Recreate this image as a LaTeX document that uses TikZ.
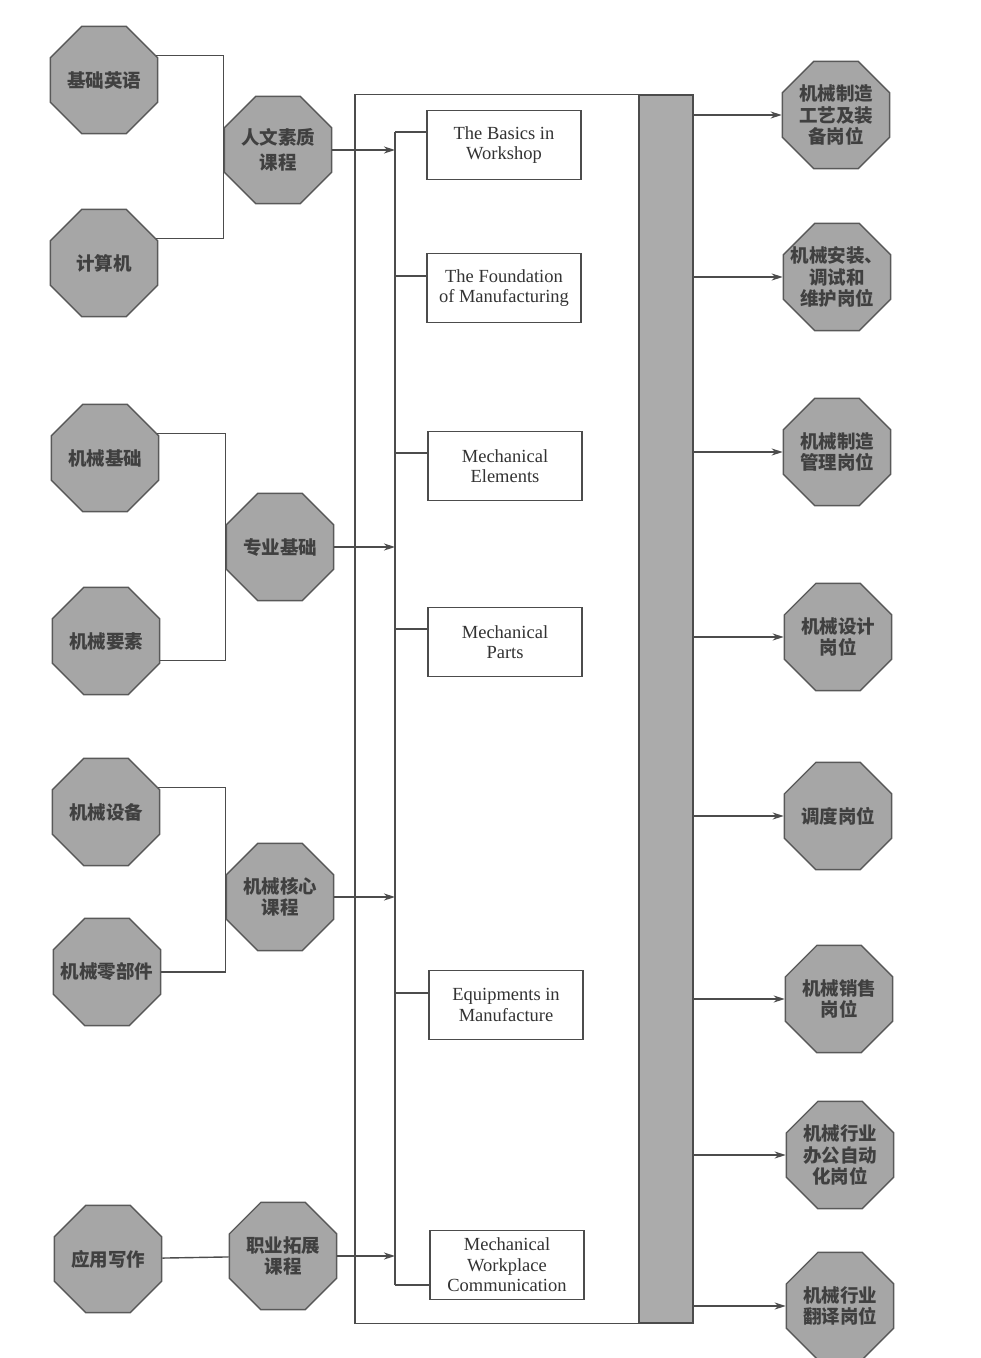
\documentclass[tikz,border=0pt]{standalone}
\usepackage{fontspec}
\setmainfont{Liberation Serif}
\newfontfamily\cjk{Noto Sans CJK SC}
\usepackage{tikz}
\usetikzlibrary{arrows.meta}
\usetikzlibrary{shapes.geometric}
\usetikzlibrary{calc}

\begin{document}
\begin{tikzpicture}
  [
    x=1pt, y=-1pt,
    oct/.style={
      regular polygon,
      regular polygon sides=8,
      minimum size=116pt,
      inner sep=-12pt,
      draw=black!65,
      line width=1.4pt,
      fill=black!35,
      text=black!75,
      align=center,
      font=\cjk\bfseries\fontsize{18.5}{21.5}\selectfont
    },
    course/.style={
      draw=black!70,
      line width=1.4pt,
      minimum width=154pt,
      minimum height=69pt,
      inner sep=0pt,
      align=center,
      text=black!80,
      font=\fontsize{18.5}{20.5}\selectfont
    },
    bar/.style={
      draw=black!70,
      line width=1.4pt,
      fill=black!33,
      minimum width=54pt,
      minimum height=1228pt,
      inner sep=0pt
    },
    link/.style={
      draw=black!70,
      line width=1.4pt
    },
    feed/.style={
      link,
      -{Stealth[length=11pt,width=7pt,inset=3.5pt]}
    }
  ]
    \fill [white] (0,0) rectangle (981,1358);
    \useasboundingbox (0,0) rectangle (981,1358);
    % basic courses
    \node [oct] (jcyy) at (104,80) {基础英语};
    \node [oct] (jsj) at (104,263) {计算机};
    \node [oct] (jxjc) at (105,458) {机械基础};
    \node [oct] (jxys) at (106,641) {机械要素};
    \node [oct] (jxsb) at (106,812) {机械设备};
    \node [oct] (jxlbj) at (107,972) {机械零部件};
    \node [oct] (yyxz) at (108,1259) {应用写作};
    % course groups
    \node [oct] (rwsz) at (278,150) {人文素质\\[3pt]课程};
    \node [oct] (zyjc) at (280,547) {专业基础};
    \node [oct] (jxhx) at (280,897) {机械核心\\课程};
    \node [oct] (zytz) at (283,1256) {职业拓展\\课程};
    % english courses
    \node [course] (wkshp) at (504,145) {The Basics in\\Workshop};
    \node [course] (mfg) at (504,288) {The Foundation\\of Manufacturing};
    \node [course] (elem) at (505,466) {Mechanical\\Elements};
    \node [course] (parts) at (505,642) {Mechanical\\Parts};
    \node [course] (equip) at (506,1005) {Equipments in\\Manufacture};
    \node [course] (comm) at (507,1265) {Mechanical\\Workplace\\Communication};
    \node [bar] (bar) at (666,709) {};
    % jobs
    \node [oct] (job1) at (836,115) {机械制造\\工艺及装\\备岗位};
    \node [oct] (job2) at (837,277) {机械安装、\\调试和\\维护岗位};
    \node [oct] (job3) at (837,452) {机械制造\\管理岗位};
    \node [oct] (job4) at (838,637) {机械设计\\岗位};
    \node [oct] (job5) at (838,816) {调度岗位};
    \node [oct] (job6) at (839,999) {机械销售\\岗位};
    \node [oct] (job7) at (840,1155) {机械行业\\办公自动\\化岗位};
    \node [oct] (job8) at (840,1306) {机械行业\\翻译岗位};
    % connectors
    \draw [link] (jcyy.25) -| (rwsz.west) |- (jsj.25);
    \draw [link] (jxjc.25) -| (zyjc.west) |- (jxys.-20);
    \draw [link] (jxsb.25) -| (jxhx.west) |- (jxlbj.east);
    \draw [link] (yyxz) -- (zytz);
    \coordinate (frame) at (355,0);
    \coordinate (bus) at (395,0);
    \draw [link] (bar.north west) -| (frame |- bar.south west) -- (bar.south west);
    \foreach \g in {rwsz,zyjc,jxhx,zytz}
      \draw [feed] (\g.east) -- (\g.east -| bus);
    \foreach \b/\s in {wkshp/13,mfg/12,elem/13,parts/13,equip/12,comm/-20}
      \coordinate (br-\b) at ([yshift=\s pt]\b.west);
    \draw [link] (br-wkshp -| bus) -- (br-comm -| bus);
    \foreach \b in {wkshp,mfg,elem,parts,equip,comm}
      \draw [link] (br-\b -| bus) -- (br-\b);
    \foreach \j in {1,...,8}
      \draw [feed] (bar.east |- job\j.west) -- (job\j.west);
  \end{tikzpicture}
\end{document}
